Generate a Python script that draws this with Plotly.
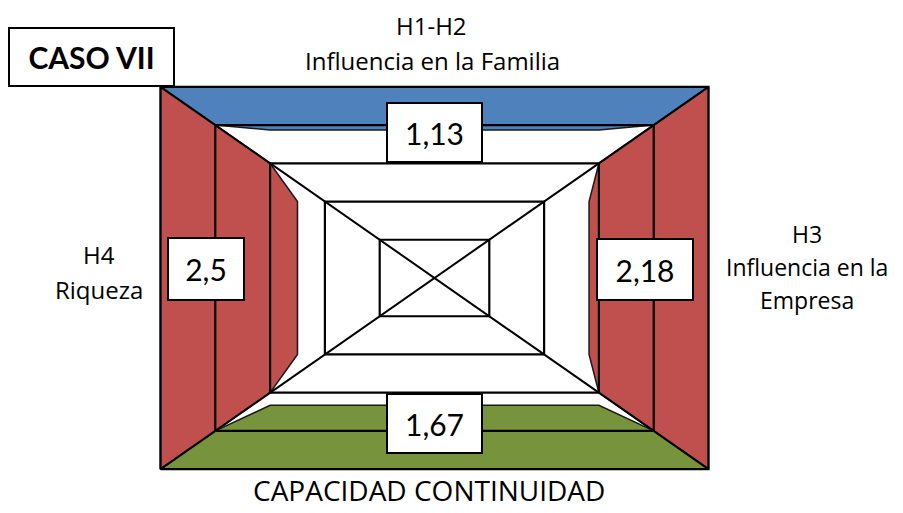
import math
import plotly.graph_objects as go

# Niveles del marco (0 = borde exterior, 5 = centro)
niveles = [1, 2, 3, 4, 5]

# Lados del diagrama y sus valores
lados = ["Familia", "Empresa", "Continuidad", "Riqueza"]
valores = [1.13, 2.18, 1.67, 2.5]
etiquetas_valor = ["1,13", "2,18", "1,67", "2,5"]
colores = ["#4F81BD", "#C0504D", "#77933C", "#C0504D"]

titulo_caso = "CASO VII"
titulo_arriba = ["H1-H2", "Influencia en la Familia"]
titulo_derecha = ["H3", "Influencia en la", "Empresa"]
titulo_izquierda = ["H4", "Riqueza"]
titulo_abajo = "CAPACIDAD CONTINUIDAD"

FONT = "Lato, 'Open Sans', sans-serif"
FONT_ROT = "'Open Sans', Lato, sans-serif"
N = max(niveles)

# area del grafico en la pagina (px) -> coordenadas paper
X0, W = 156, 559
Y1, H = 474, 390


def orientar(lado, lat, prof):
    # lat = posicion lateral, prof = nivel hacia el centro
    if lado == "Familia":
        return lat, prof
    if lado == "Continuidad":
        return lat, -prof
    if lado == "Empresa":
        return prof, lat
    return -prof, lat


fig = go.Figure()

# Zonas de color de cada lado
for lado, v, col in zip(lados, valores, colores):
    c = math.floor(v)
    lc = N - c          # nivel en la esquina
    lk = lc - 1         # posicion lateral del quiebre
    lv = N - v          # nivel alcanzado por el valor
    pts = [(-N, N), (N, N), (lc, lc), (lk, lv), (-lk, lv), (-lc, lc), (-N, N)]
    xs, ys = zip(*[orientar(lado, a, b) for a, b in pts])
    fig.add_trace(go.Scatter(
        x=xs, y=ys, mode="lines", fill="toself", fillcolor=col,
        line=dict(color="#1a1a1a", width=1.5), hoverinfo="skip",
    ))

# Diagonales
for sx in (1, -1):
    fig.add_trace(go.Scatter(
        x=[-N * sx, N * sx], y=[-N, N], mode="lines",
        line=dict(color="black", width=2), hoverinfo="skip",
    ))

# Rectangulos concentricos
for k in niveles:
    fig.add_trace(go.Scatter(
        x=[-k, k, k, -k, -k], y=[-k, -k, k, k, -k], mode="lines",
        line=dict(color="black", width=2.2), hoverinfo="skip",
    ))


def texto(txt, px, py, size=24, family=FONT_ROT, **kw):
    d = dict(x=(px - X0) / W, y=(Y1 - py) / H, xref="paper", yref="paper",
             text=txt, showarrow=False,
             font=dict(family=family, size=size, color="black"),
             xanchor="center", yanchor="middle")
    d.update(kw)
    return d


# Cajas con los valores
pos_valor = {"Familia": (435, 133), "Empresa": (646, 270),
             "Continuidad": (435, 424), "Riqueza": (207, 270)}
tam_caja = {"Familia": (93, 57), "Empresa": (94, 59),
            "Continuidad": (93, 57), "Riqueza": (74, 60)}
anns = []
for lado, txt in zip(lados, etiquetas_valor):
    px, py = pos_valor[lado]
    w, h = tam_caja[lado]
    anns.append(texto(txt, px, py, size=30, family=FONT, bgcolor="white",
                      bordercolor="black", borderwidth=2, borderpad=0,
                      width=w, height=h, align="center", valign="middle"))

anns.append(texto(titulo_arriba[0], 432, 26))
anns.append(texto(titulo_arriba[1], 433, 61))
for t, py in zip(titulo_izquierda, [255, 290]):
    anns.append(texto(t, 100, py))
for t, py in zip(titulo_derecha, [235, 268, 301]):
    anns.append(texto(t, 808, py, size=23))
anns.append(texto(titulo_abajo, 430, 491, size=28))
anns.append(texto("<b>" + titulo_caso + "</b>", 92, 58, size=30, family=FONT,
                  bgcolor="white", bordercolor="black", borderwidth=2,
                  borderpad=0, width=163, height=56))

pad = 0.1
fig.update_layout(
    width=903, height=513,
    margin=dict(l=147, r=197, t=75, b=48),
    paper_bgcolor="white", plot_bgcolor="white",
    showlegend=False,
    xaxis=dict(range=[-N - pad, N + pad], visible=False, fixedrange=True),
    yaxis=dict(range=[-N - pad, N + pad], visible=False, fixedrange=True),
    annotations=anns,
)

fig.write_html("out.html")
